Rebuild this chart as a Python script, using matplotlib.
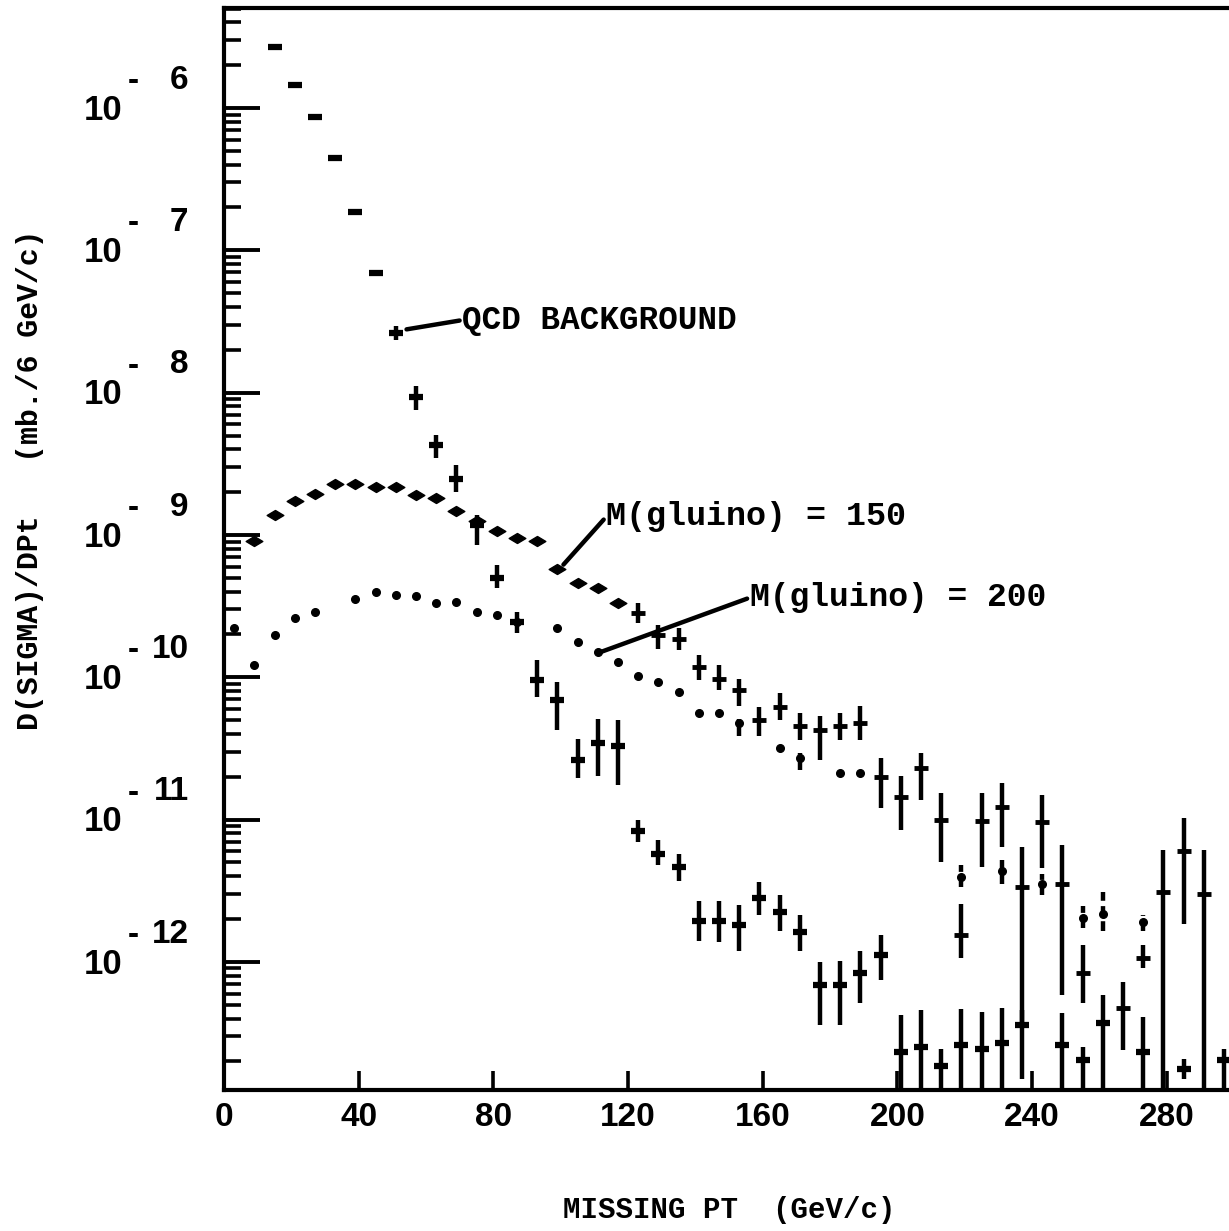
"""Missing-pT spectrum: QCD background vs gluino signals (scan recreation)."""

import numpy as np
import matplotlib

matplotlib.use("Agg")

import matplotlib.pyplot as plt
from matplotlib.path import Path
from matplotlib.ticker import LogLocator, MultipleLocator, NullFormatter


# bin centres (GeV/c) and log10 of dsigma/dpt
qcd_pt = [15, 21, 27, 33, 39, 45, 51, 57, 63, 69, 75, 81, 87, 93, 99, 105,
          111, 117, 123, 129, 135, 141, 147, 153, 159, 165, 171, 177, 183,
          189, 195, 201, 207, 213, 219, 225, 231, 237, 249, 255, 261, 273,
          285, 297]
qcd_log = [-5.57, -5.84, -6.06, -6.35, -6.73, -7.16, -7.58, -8.03, -8.37,
           -8.61, -8.93, -9.30, -9.61, -10.02, -10.16, -10.58, -10.46, -10.48,
           -11.08, -11.24, -11.33, -11.71, -11.71, -11.74, -11.55, -11.65,
           -11.79, -12.16, -12.16, -12.08, -11.95, -12.63, -12.60, -12.73,
           -12.58, -12.61, -12.57, -12.44, -12.58, -12.69, -12.43, -12.63,
           -12.75, -12.69]
qcd_log_hi = [-5.57, -5.84, -6.06, -6.35, -6.73, -7.16, -7.53, -7.95, -8.30,
              -8.51, -8.86, -9.21, -9.54, -9.88, -10.03, -10.43, -10.29,
              -10.30, -11.00, -11.14, -11.24, -11.57, -11.57, -11.60, -11.44,
              -11.53, -11.67, -12.00, -11.99, -11.92, -11.81, -12.37, -12.34,
              -12.61, -12.33, -12.35, -12.32, -12.34, -12.36, -12.60, -12.23,
              -12.39, -12.68, -12.61]
qcd_log_lo = [-5.57, -5.84, -6.06, -6.35, -6.73, -7.16, -7.63, -8.12, -8.46,
              -8.70, -9.07, -9.37, -9.69, -10.14, -10.37, -10.71, -10.69,
              -10.76, -11.16, -11.32, -11.43, -11.85, -11.86, -11.92, -11.67,
              -11.78, -11.92, -12.44, -12.44, -12.29, -12.13, -13.5, -13.5,
              -13.5, -13.5, -13.5, -13.5, -12.82, -13.5, -13.5, -13.5, -13.5,
              -12.82, -13.5]

g150_pt = [9, 15, 21, 27, 33, 39, 45, 51, 57, 63, 69, 75, 81, 87, 93, 99, 105,
           111, 117, 123, 129, 135, 141, 147, 153, 159, 165, 171, 177, 183,
           189, 195, 201, 207, 213, 219, 225, 231, 237, 243, 249, 255, 267,
           273, 279, 285, 291]
g150_log = [-9.04, -8.86, -8.76, -8.71, -8.64, -8.64, -8.66, -8.66, -8.72,
            -8.74, -8.83, -8.90, -8.97, -9.02, -9.04, -9.24, -9.34, -9.37,
            -9.48, -9.55, -9.70, -9.73, -9.93, -10.01, -10.09, -10.30, -10.21,
            -10.34, -10.37, -10.34, -10.32, -10.70, -10.84, -10.64, -11.00,
            -11.81, -11.01, -10.91, -11.47, -11.02, -11.45, -12.08, -12.32,
            -11.97, -11.51, -11.22, -11.52]
g150_log_hi = [-9.04, -8.86, -8.76, -8.71, -8.64, -8.64, -8.66, -8.66, -8.72,
               -8.74, -8.83, -8.90, -8.97, -9.02, -9.04, -9.24, -9.34, -9.37,
               -9.48, -9.48, -9.63, -9.65, -9.84, -9.91, -10.01, -10.21,
               -10.11, -10.25, -10.27, -10.25, -10.20, -10.57, -10.69, -10.53,
               -10.81, -11.59, -10.81, -10.74, -11.19, -10.83, -11.18, -11.88,
               -12.14, -11.88, -11.21, -10.99, -11.21]
g150_log_lo = [-9.04, -8.86, -8.76, -8.71, -8.64, -8.64, -8.66, -8.66, -8.72,
               -8.74, -8.83, -8.90, -8.97, -9.02, -9.04, -9.24, -9.34, -9.37,
               -9.48, -9.62, -9.80, -9.81, -10.02, -10.09, -10.20, -10.41,
               -10.30, -10.44, -10.58, -10.44, -10.44, -10.92, -11.07, -10.86,
               -11.30, -11.97, -11.33, -11.19, -12.44, -11.34, -12.23, -12.29,
               -12.62, -12.04, -13.5, -11.73, -13.5]

g200_pt = [3, 9, 15, 21, 27, 39, 45, 51, 57, 63, 69, 75, 81, 87, 99, 105, 111,
           117, 123, 129, 135, 141, 147, 153, 165, 171, 183, 189, 219, 231,
           243, 255, 261, 273]
g200_log = [-9.65, -9.91, -9.70, -9.58, -9.54, -9.45, -9.40, -9.42, -9.43,
            -9.48, -9.47, -9.54, -9.56, -9.61, -9.65, -9.75, -9.82, -9.89,
            -9.99, -10.03, -10.10, -10.25, -10.25, -10.32, -10.50, -10.57,
            -10.67, -10.67, -11.40, -11.36, -11.45, -11.69, -11.66, -11.72]
g200_log_hi = [-9.65, -9.91, -9.70, -9.58, -9.54, -9.45, -9.40, -9.42, -9.43,
               -9.48, -9.47, -9.54, -9.56, -9.61, -9.65, -9.75, -9.82, -9.89,
               -9.99, -10.03, -10.10, -10.25, -10.25, -10.29, -10.50, -10.53,
               -10.67, -10.67, -11.32, -11.28, -11.38, -11.61, -11.51, -11.67]
g200_log_lo = [-9.65, -9.91, -9.70, -9.58, -9.54, -9.45, -9.40, -9.42, -9.43,
               -9.48, -9.47, -9.54, -9.56, -9.61, -9.65, -9.75, -9.82, -9.89,
               -9.99, -10.03, -10.10, -10.25, -10.25, -10.41, -10.50, -10.65,
               -10.67, -10.67, -11.47, -11.45, -11.53, -11.76, -11.78, -11.78]

decades = [6, 7, 8, 9, 10, 11, 12]
x_ticks = [0, 40, 80, 120, 160, 200, 240, 280]

N_DIAMOND = 19  # gluino-150 points drawn as diamonds before the crosses start

MONO = "Liberation Mono"
SANS = "Liberation Sans"

DIAMOND = Path([(-1, 0), (0, 0.6), (1, 0), (0, -0.6), (-1, 0)],
               [Path.MOVETO, Path.LINETO, Path.LINETO, Path.LINETO, Path.CLOSEPOLY])


def _series(pt, val, hi, lo):
    """Turn log10 readings into linear values and error offsets."""
    y = 10 ** np.array(val)
    err = [y - 10 ** np.array(lo), 10 ** np.array(hi) - y]
    return np.array(pt), y, err


fig = plt.figure(figsize=(12.29, 12.31), dpi=100)
ax = fig.add_axes([224 / 1229, 1 - 1090 / 1231, 1010 / 1229, 1082 / 1231])
ax.set_yscale("log")
ax.set_xlim(0, 300)
ax.set_ylim(10 ** -12.8995, 10 ** -5.2973)

# QCD background
x, y, err = _series(qcd_pt, qcd_log, qcd_log_hi, qcd_log_lo)
ax.errorbar(x, y, yerr=err, fmt="_", color="black", ms=10, mew=4.5,
            elinewidth=3.2, capsize=0, clip_on=True)

# gluino 150: diamonds, then crosses with bars
x, y, err = _series(g150_pt, g150_log, g150_log_hi, g150_log_lo)
ax.plot(x[:N_DIAMOND], y[:N_DIAMOND], linestyle="none", marker=DIAMOND,
        ms=12, color="black")
ax.errorbar(x[N_DIAMOND:], y[N_DIAMOND:],
            yerr=[err[0][N_DIAMOND:], err[1][N_DIAMOND:]], fmt="_",
            color="black", ms=10, mew=3.5, elinewidth=3.2, capsize=0)

# gluino 200: small marks, broken bars
x, y, err = _series(g200_pt, g200_log, g200_log_hi, g200_log_lo)
_, _, bars = ax.errorbar(x, y, yerr=err, fmt="o", color="black", ms=5.5,
                         elinewidth=3.2, capsize=0)
bars[0].set_linestyle((0, (2.2, 1.2)))

# axes frame
for side in ("left", "top", "bottom"):
    ax.spines[side].set_linewidth(3)
ax.spines["right"].set_visible(False)

ax.yaxis.set_major_locator(LogLocator(base=10))
ax.yaxis.set_minor_locator(LogLocator(base=10, subs=np.arange(2, 10)))
ax.yaxis.set_major_formatter(NullFormatter())
ax.yaxis.set_minor_formatter(NullFormatter())
ax.tick_params(axis="y", which="major", direction="in", length=26, width=2.8,
               left=True, right=False)
ax.tick_params(axis="y", which="minor", direction="in", length=12, width=2.6,
               left=True, right=False)

ax.set_xticks(x_ticks)
ax.xaxis.set_minor_locator(MultipleLocator(1000))
ax.tick_params(axis="x", which="major", direction="in", length=14, width=2.6,
               top=False, pad=9)
ax.set_xticklabels([str(t) for t in x_ticks], fontfamily=SANS,
                   fontweight="bold", fontsize=24)

# y tick labels drawn as 10 with a detached raised exponent
for d in decades:
    yy = 10.0 ** -d
    ax.annotate("10", xy=(0, yy), xycoords=("axes fraction", "data"),
                xytext=(-73.5, -1.5), textcoords="offset points",
                ha="right", va="center", fontfamily=SANS,
                fontweight="bold", fontsize=25)
    ax.annotate("-", xy=(0, yy), xycoords=("axes fraction", "data"),
                xytext=(-69, 19), textcoords="offset points",
                ha="left", va="center", fontfamily=SANS,
                fontweight="bold", fontsize=24)
    ax.annotate(str(d), xy=(0, yy), xycoords=("axes fraction", "data"),
                xytext=(-25.5, 20), textcoords="offset points",
                ha="right", va="center", fontfamily=SANS,
                fontweight="bold", fontsize=24)

ax.set_xlabel("MISSING PT  (GeV/c)", fontfamily=MONO, fontweight="bold",
              fontsize=21, labelpad=45)
fig.text(30 / 1229, 1 - 480 / 1231, "D(SIGMA)/DPt   (mb./6 GeV/c)",
         rotation=90, ha="center", va="center", fontfamily=MONO,
         fontweight="bold", fontsize=21.5)

line = dict(arrowstyle="-", lw=3.2, color="black", shrinkA=0, shrinkB=3,
            relpos=(0, 0.5))
ax.annotate("QCD BACKGROUND", xy=(53, 10 ** -7.56), xytext=(70.8, 10 ** -7.49),
            ha="left", va="center", fontfamily=MONO, fontweight="bold",
            fontsize=23.5, arrowprops=line)
ax.annotate("M(gluino) = 150", xy=(100, 10 ** -9.23),
            xytext=(113.6, 10 ** -8.87), ha="left", va="center",
            fontfamily=MONO, fontweight="bold", fontsize=24, arrowprops=line)
ax.annotate("M(gluino) = 200", xy=(111, 10 ** -9.83),
            xytext=(156.2, 10 ** -9.44), ha="left", va="center",
            fontfamily=MONO, fontweight="bold", fontsize=23.8, arrowprops=line)

fig.savefig("out.png", dpi=100)
plt.close(fig)
